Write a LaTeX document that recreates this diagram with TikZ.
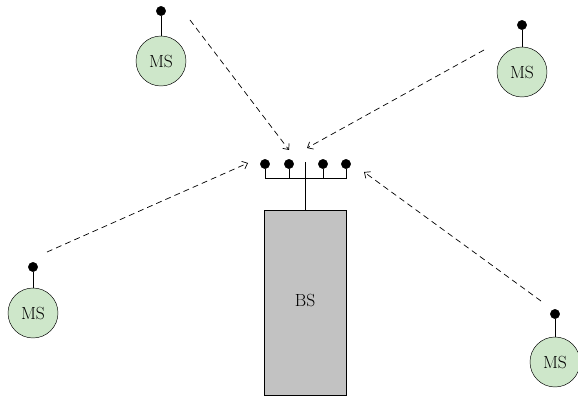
\documentclass[tikz,border=0pt]{standalone}
\usetikzlibrary{arrows.meta}

\definecolor{msverde}{RGB}{206,231,202}
\definecolor{bsgris}{RGB}{194,194,194}

\tikzstyle{movil}= [circle,draw,black,fill=msverde,minimum size=1.5cm,inner sep=0pt,font=\fontsize{15}{17}\selectfont]
\tikzstyle{base}= [rectangle,draw,black,fill=bsgris,minimum width=2.46cm,minimum height=5.55cm,inner sep=0pt,font=\fontsize{15}{17}\selectfont]
\tikzstyle{punto}= [circle,draw,black,fill=black,minimum size=0.28cm,inner sep=0pt]
\tikzstyle{enlace}= [black,semithick,dash pattern=on 5pt off 3.5pt,-{Straight Barb[length=4pt,width=7pt]}]

\begin{document}
\begin{tikzpicture}[x=0.03cm,y=-0.03cm]

		\useasboundingbox (0,0) rectangle (578,396);

		\node (bs) at (305,302.5) [base] {};
		\node at (305,300) [font=\fontsize{15}{17}\selectfont] {BS};

		\node (d1) at (265,164) [punto] {};
		\node (d2) at (289,164) [punto] {};
		\node (d3) at (323,164) [punto] {};
		\node (d4) at (346,164) [punto] {};
		\coordinate (b1) at (265,178);
		\coordinate (b2) at (289,178);
		\coordinate (b3) at (323,178);
		\coordinate (b4) at (346,178);
		\coordinate (m) at (305,162);

		\node (ms1) at (161,61) [movil] {MS};
		\node (a1) at (161,11) [punto] {};
		\node (ms2) at (522,72) [movil] {MS};
		\node (a2) at (522,25) [punto] {};
		\node (ms3) at (33,313) [movil] {MS};
		\node (a3) at (33,267) [punto] {};
		\node (ms4) at (555,362) [movil] {MS};
		\node (a4) at (555,314) [punto] {};

		\coordinate (s1) at (190,20);
		\coordinate (t1) at (289,150);
		\coordinate (s2) at (484,50);
		\coordinate (t2) at (307,148);
		\coordinate (s3) at (47,252);
		\coordinate (t3) at (248,163);
		\coordinate (s4) at (541,301);
		\coordinate (t4) at (364,172);

		\draw[black,thick] (bs.north) -- (m);
		\draw[black,thick] (d1) -- (b1) -- (b4) -- (d4);
		\draw[black,thick] (d2) -- (b2);
		\draw[black,thick] (d3) -- (b3);

		\draw[black,thick] (ms1) -- (a1);
		\draw[black,thick] (ms2) -- (a2);
		\draw[black,thick] (ms3) -- (a3);
		\draw[black,thick] (ms4) -- (a4);

		\draw[enlace] (s1) -- (t1);
		\draw[enlace] (s2) -- (t2);
		\draw[enlace] (s3) -- (t3);
		\draw[enlace] (s4) -- (t4);

	\end{tikzpicture}
\end{document}
